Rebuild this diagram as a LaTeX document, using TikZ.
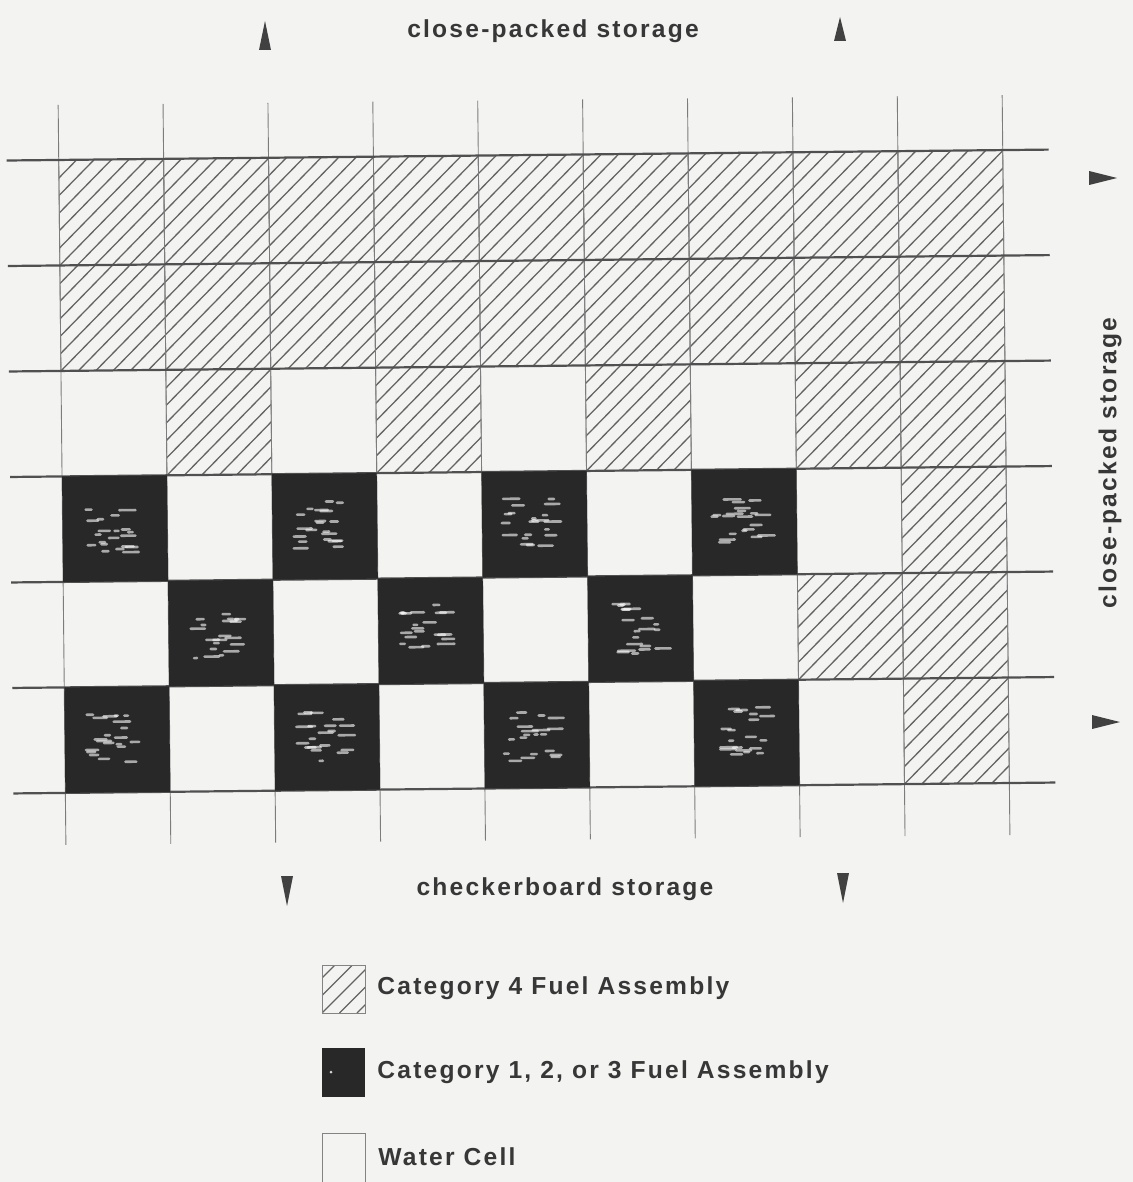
\documentclass[tikz,border=0pt]{standalone}
\usepackage{fontspec}
\newfontfamily\lblfont{Liberation Sans}[LetterSpace=9]
\definecolor{bg}{RGB}{243,243,241}
\definecolor{ink}{RGB}{55,55,55}
\definecolor{hatchc}{RGB}{100,100,100}
\definecolor{gridc}{RGB}{80,80,80}
\definecolor{darkc}{RGB}{40,40,40}
\newcommand\hatchbox[4]{%
  \begin{scope}
    \clip (#1,#2) rectangle (#3,#4);
    \foreach \s in {0,...,14}{%
      \draw[hatchline] ({#1-122.5+17.5*\s},#4) -- ++(140,-140);}
  \end{scope}
  \draw[cellborder] (#1,#2) rectangle (#3,#4);}
\begin{document}
\begin{tikzpicture}[x=0.5pt,y=-0.5pt,
  lbl/.style={font=\lblfont\bfseries\fontsize{12.3}{14}\selectfont, text=ink, inner sep=0pt},
  hatchline/.style={draw=hatchc, line width=0.65pt},
  cellborder/.style={draw=hatchc!80, line width=0.4pt},
  vline/.style={draw=gridc!75, line width=0.45pt},
  hline/.style={draw=gridc, line width=1.1pt},
  darkfill/.style={fill=darkc},
  speck/.style={draw=white, opacity=0.6, line width=1.3pt, line cap=round},
  tri/.style={fill=ink!95}]
\useasboundingbox[fill=bg] (0,0) rectangle (1133,1182);
\pgfmathsetseed{11}
\begin{scope}[rotate around={0.6:(533,472)}]
  % cells
  \foreach \rowlist [count=\r from 0] in {{H,H,H,H,H,H,H,H,H},{H,H,H,H,H,H,H,H,H},{W,H,W,H,W,H,W,H,H},{D,W,D,W,D,W,D,W,H},{W,D,W,D,W,D,W,H,H},{D,W,D,W,D,W,D,W,H}}{%
    \foreach \t [count=\i from 0] in \rowlist {%
      \pgfmathsetmacro\xa{62+104.9*\i}
      \pgfmathsetmacro\xb{\xa+104.9}
      \pgfmathsetmacro\ya{155+105.5*\r}
      \pgfmathsetmacro\yb{\ya+105.5}
      \if\t H\hatchbox{\xa}{\ya}{\xb}{\yb}\fi
    }
  }
  % vertical grid lines with ticks
  \foreach \i in {0,...,9}{%
    \pgfmathsetmacro\xv{62+104.9*\i}
    \draw[vline] (\xv,100) -- (\xv,840);
  }
  % horizontal lines
  \foreach \r in {0,...,6}{%
    \pgfmathsetmacro\yh{155+105.5*\r}
    \draw[hline] (10,\yh) -- (1052,\yh);
  }
  % dark cells
  \foreach \rowlist [count=\r from 0] in {{H,H,H,H,H,H,H,H,H},{H,H,H,H,H,H,H,H,H},{W,H,W,H,W,H,W,H,H},{D,W,D,W,D,W,D,W,H},{W,D,W,D,W,D,W,H,H},{D,W,D,W,D,W,D,W,H}}{%
    \foreach \t [count=\i from 0] in \rowlist {%
      \pgfmathsetmacro\xa{62+104.9*\i}
      \pgfmathsetmacro\xb{\xa+104.9}
      \pgfmathsetmacro\ya{155+105.5*\r}
      \pgfmathsetmacro\yb{\ya+105.5}
      \if\t D
        \fill[darkfill] (\xa,\ya) rectangle (\xb,\yb);
        \foreach \k in {1,...,20}{%
          \pgfmathsetmacro\px{(\xa+\xb)/2-9+rand*24}
          \pgfmathsetmacro\py{(\ya+\yb)/2+rand*26}
          \pgfmathsetmacro\ln{3+rnd*14}
          \draw[speck] (\px,\py) -- ++(\ln,0);
        }
      \fi
    }
  }
\end{scope}
% arrow marks
\fill[tri] (259,50) -- (265,21) -- (271,50) -- cycle;
\fill[tri] (834,41) -- (840,17) -- (846,41) -- cycle;
\fill[tri] (281,876) -- (287,906) -- (293,876) -- cycle;
\fill[tri] (837,873) -- (843,903) -- (849,873) -- cycle;
\fill[tri] (1089,171) -- (1117,178) -- (1089,185) -- cycle;
\fill[tri] (1092,715) -- (1120,722) -- (1092,729) -- cycle;
% labels
\node[lbl] (toplbl) at (553,31) {close-packed storage};
\node[lbl] (botlbl) at (565,889) {checkerboard storage};
\node[lbl, rotate=90] (rightlbl) at (1110,463) {close-packed storage};
% legend
\hatchbox{322}{965}{365}{1013}
\fill[darkfill] (322,1048) rectangle (365,1097);
\fill[white, opacity=0.8] (331,1072) circle (1.5);
\draw[cellborder] (322,1133) rectangle (365,1182);
\node[lbl, anchor=west] (leg4) at (377,988) {Category 4 Fuel Assembly};
\node[lbl, anchor=west] (leg123) at (377,1072) {Category 1, 2, or 3 Fuel Assembly};
\node[lbl, anchor=west] (legw) at (378,1157) {Water Cell};
\end{tikzpicture}
\end{document}
